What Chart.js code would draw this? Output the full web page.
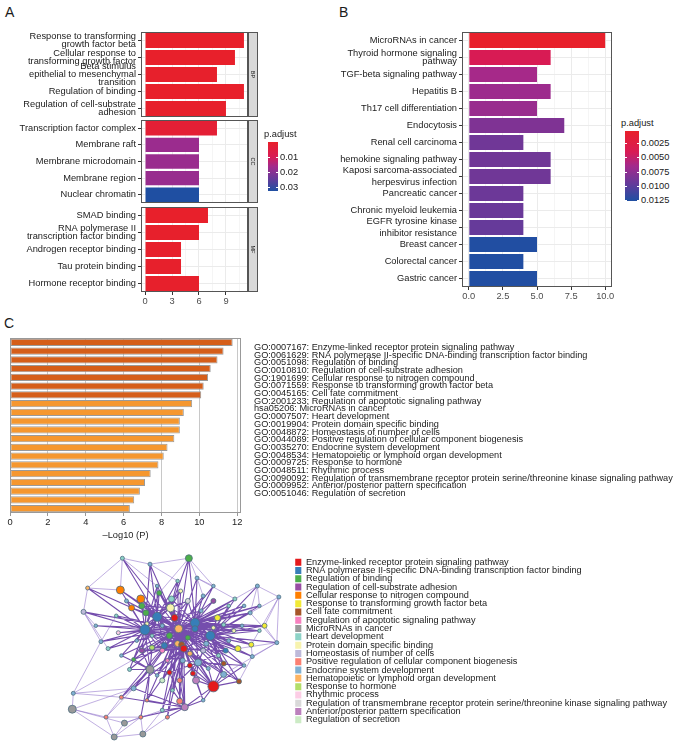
<!DOCTYPE html>
<html>
<head>
<meta charset="utf-8">
<script src="https://cdn.jsdelivr.net/npm/chart.js@4.4.1/dist/chart.umd.min.js"></script>
<style>
  body { margin: 0; background: #fff; width: 677px; height: 745px; position: relative; overflow: hidden;
         font-family: 'Liberation Sans', Arial, sans-serif; color: #1a1a1a; }
  canvas { position: absolute; }
  .tag { position: absolute; font-size: 14px; line-height: 14px; }
  .cb { position: absolute; font-size: 9.3px; line-height: 10px; white-space: nowrap; }
</style>
</head>
<body>
<div class="tag" style="left:5px;top:5px">A</div>
<div class="tag" style="left:339px;top:5px">B</div>
<div class="tag" style="left:4px;top:316px">C</div>

<canvas id="bp" width="262" height="93" style="left:0;top:28px"></canvas>
<canvas id="cc" width="262" height="91" style="left:0;top:116px"></canvas>
<canvas id="mf" width="262" height="105" style="left:0;top:203px"></canvas>
<canvas id="kegg" width="274" height="275" style="left:340px;top:28px"></canvas>
<canvas id="metascape" width="677" height="212" style="left:0;top:330px"></canvas>
<canvas id="net" width="677" height="205" style="left:0;top:540px"></canvas>

<script>
// ---- panel A: GO terms by ontology ----
const bpTerms = [['Response to transforming', 'growth factor beta'], ['Cellular response to', 'transforming growth factor'],
                 ['Beta stimulus', 'epithelial to mesenchymal', 'transition'], 'Regulation of binding',
                 ['Regulation of cell-substrate', 'adhesion']];
const bpCount = [11, 10, 8, 11, 9];
const bpPadj = [0.0003, 0.0004, 0.0006, 0.0003, 0.0005];

const ccTerms = ['Transcription factor complex', 'Membrane raft', 'Membrane microdomain', 'Membrane region', 'Nuclear chromatin'];
const ccCount = [8, 6, 6, 6, 6];
const ccPadj = [0.0025, 0.0175, 0.0176, 0.0178, 0.0327];

const mfTerms = ['SMAD binding', ['RNA polymerase II', 'transcription factor binding'], 'Androgen receptor binding',
                 'Tau protein binding', 'Hormone receptor binding'];
const mfCount = [7, 6, 4, 4, 6];
const mfPadj = [0.0004, 0.0005, 0.0006, 0.0006, 0.0005];

const aTicks = [0, 1.5, 3, 4.5, 6, 7.5, 9, 10.5];
const aPadjRange = [0.0001, 0.0327];
const aLegendTicks = [0.01, 0.02, 0.03];

// ---- panel B: KEGG ----
const keggTerms = ['MicroRNAs in cancer', ['Thyroid hormone signaling', 'pathway'], 'TGF-beta signaling pathway', 'Hepatitis B',
                   'Th17 cell differentiation', 'Endocytosis', 'Renal cell carcinoma', 'Chemokine signaling pathway',
                   ['Kaposi sarcoma-associated', 'herpesvirus infection'], 'Pancreatic cancer', 'Chronic myeloid leukemia',
                   ['EGFR tyrosine kinase', 'inhibitor resistance'], 'Breast cancer', 'Colorectal cancer', 'Gastric cancer'];
const keggCount = [10, 6, 5, 6, 5, 7, 4, 6, 6, 4, 4, 4, 5, 4, 5];
const keggPadj = [0.0005, 0.0040, 0.0064, 0.0068, 0.0070, 0.0083, 0.0090, 0.0090, 0.0090, 0.0092, 0.0093, 0.0095, 0.0125, 0.0125, 0.0125];
const bTicks = [0, 1.25, 2.5, 3.75, 5, 6.25, 7.5, 8.75, 10];
const bPadjRange = [0.00043, 0.0126];
const bLegendTicks = [0.0025, 0.005, 0.0075, 0.01, 0.0125];

// ---- panel C: metascape enrichment ----
const enrichTerms = [
  'GO:0007167: Enzyme-linked receptor protein signaling pathway',
  'GO:0061629: RNA polymerase II-specific DNA-binding transcription factor binding',
  'GO:0051098: Regulation of binding',
  'GO:0010810: Regulation of cell-substrate adhesion',
  'GO:1901699: Cellular response to nitrogen compound',
  'GO:0071559: Response to transforming growth factor beta',
  'GO:0045165: Cell fate commitment',
  'GO:2001233: Regulation of apoptotic signaling pathway',
  'hsa05206: MicroRNAs in cancer',
  'GO:0007507: Heart development',
  'GO:0019904: Protein domain specific binding',
  'GO:0048872: Homeostasis of number of cells',
  'GO:0044089: Positive regulation of cellular component biogenesis',
  'GO:0035270: Endocrine system development',
  'GO:0048534: Hematopoietic or lymphoid organ development',
  'GO:0009725: Response to hormone',
  'GO:0048511: Rhythmic process',
  'GO:0090092: Regulation of transmembrane receptor protein serine/threonine kinase signaling pathway',
  'GO:0009952: Anterior/posterior pattern specification',
  'GO:0051046: Regulation of secretion'
];
const enrichLogP = [11.76, 11.28, 10.96, 10.6, 10.46, 10.23, 10.1, 9.62, 9.18, 8.97, 8.97, 8.68, 8.32, 8.12, 7.84, 7.43, 7.13, 6.86, 6.56, 6.33];
const cTicks = [0, 2, 4, 6, 8, 10, 12];

// ---- network: clusters, nodes [x, y, cluster, radius], links ----
const clusterNames = enrichTerms.map(t => t.slice(t.indexOf(': ') + 2));
const clusterColors = ['#e41a1c', '#377eb8', '#4daf4a', '#984ea3', '#ff7f00', '#f2ea35', '#a65628', '#f781bf', '#999999', '#8dd3c7',
                       '#f7f3ae', '#bebada', '#fb8072', '#80b1d3', '#fdb462', '#b3de69', '#fccde5', '#d9d9d9', '#bc80bd', '#ccebc5'];
const nodes = [
  [61, 188, 9, 2], [126, 188, 2, 3.5], [88, 182, 13, 2], [134, 168, 13, 2], [27, 158, 14, 2],
  [59, 156, 4, 4], [79, 147, 4, 4], [193, 160, 13, 2], [214, 149, 13, 2], [171, 147, 9, 2],
  [23, 134, 11, 2.5], [109, 147, 9, 3], [97, 153, 2, 2.5], [108, 138, 10, 4], [84, 133, 2, 3],
  [95, 129, 1, 4.5], [112, 128, 0, 3.5], [132, 123, 1, 4.5], [154, 128, 5, 3], [160, 121, 9, 2],
  [186, 133, 13, 2], [83, 116, 1, 5], [116, 117, 14, 4], [132, 117, 1, 3], [147, 110, 1, 4.5],
  [107, 110, 2, 3], [40, 104, 13, 2], [212, 103, 13, 2], [187, 101, 5, 2.5], [174, 97, 5, 3],
  [115, 102, 14, 3], [119, 101, 6, 3], [121, 97, 0, 3.5], [143, 102, 13, 2.5], [47, 97, 9, 2],
  [188, 89, 13, 2], [72, 86, 2, 2], [135, 83, 13, 3.5], [160, 82, 6, 2.5], [88, 76, 8, 4],
  [68, 76, 9, 2], [127, 80, 0, 2.5], [130, 72, 0, 2.5], [160, 71, 13, 3], [175, 64, 6, 2.5],
  [133, 65, 18, 3.5], [150, 59, 0, 5.5], [107, 73, 0, 2.5], [117, 65, 12, 2.5], [72, 57, 13, 2.5],
  [13, 52, 13, 2], [60, 48, 12, 2], [117, 44, 12, 3], [122, 38, 18, 3.5], [12, 36, 8, 4],
  [45, 28, 12, 2], [105, 28, 12, 2], [79, 28, 12, 2], [63, 22, 8, 3], [53, 8, 8, 3],
  [81, 11, 8, 3], [100, 35, 9, 2], [90, 98, 15, 2.5], [57, 113, 16, 2], [70, 138, 4, 3],
  [80, 140, 2, 3], [100, 95, 7, 2.5], [140, 95, 11, 2.5], [125, 145, 17, 2.5], [100, 65, 19, 2.5],
  [150, 145, 3, 2.5], [80, 95, 3, 2.5], [140, 150, 13, 2], [65, 145, 13, 2], [165, 105, 13, 2],
  [155, 90, 9, 2], [120, 85, 13, 2.5], [105, 85, 7, 2], [145, 77, 13, 2], [95, 160, 13, 1.8],
  [115, 165, 9, 1.8], [150, 160, 13, 1.8], [165, 140, 9, 1.8], [178, 120, 13, 1.8], [195, 115, 9, 1.8],
  [180, 80, 13, 1.8], [170, 115, 10, 2], [100, 120, 13, 2], [90, 110, 9, 1.8], [75, 105, 13, 1.8],
  [60, 90, 13, 1.8], [55, 130, 9, 1.8], [35, 120, 13, 1.8], [95, 70, 13, 1.8], [110, 55, 9, 1.8],
  [140, 45, 13, 1.8], [85, 45, 12, 1.8], [125, 108, 2, 2.5], [138, 135, 13, 2], [118, 155, 10, 2],
  [102, 100, 1, 3], [127, 92, 14, 2.5], [150, 118, 10, 2], [162, 95, 1, 2.5], [85, 122, 10, 2],
  [195, 140, 13, 1.8], [200, 120, 5, 2.5], [180, 140, 13, 1.8]
];
const strongLinks = [
  [22, [0, 1, 2, 3, 4, 5, 6, 9, 10, 11, 12, 13, 14, 15, 16, 17, 18, 19, 20, 21, 23, 24, 25, 26, 28, 29, 30, 31, 32, 33, 34, 35,
        36, 37, 38, 39, 40, 41, 42, 43, 44, 45, 46, 47, 48, 49, 51, 52, 53, 56, 61, 62, 63, 64, 65, 66, 67, 68, 69, 70, 71, 72,
        73, 74, 75, 76, 77, 78, 79, 80, 81, 82, 83, 84, 85, 86, 87, 88, 89, 90, 91, 92, 93, 94, 95, 96, 97, 98, 99, 100, 101,
        102, 103, 104, 105, 106, 107]],
  [21, [2, 4, 5, 6, 10, 12, 13, 14, 15, 16, 25, 30, 31, 34, 36, 39, 40, 63, 64, 65, 71, 73, 79, 87, 88, 89, 90, 91, 92, 97, 99,
        100, 104, 62, 66, 26]],
  [17, [1, 3, 9, 11, 13, 16, 18, 19, 20, 23, 24, 28, 29, 30, 31, 32, 33, 37, 38, 43, 68, 70, 72, 74, 75, 81, 82, 83, 84, 86,
        98, 102, 103, 105, 106, 107]],
  [24, [7, 9, 18, 19, 20, 27, 28, 29, 33, 35, 37, 38, 43, 44, 67, 74, 75, 82, 83, 84, 85, 86, 102, 103, 105, 106, 107, 23, 32]],
  [15, [0, 2, 5, 6, 11, 12, 13, 14, 16, 25, 30, 31, 64, 65, 73, 79, 80, 87, 88, 97, 99, 100, 104, 36, 71]],
  [32, [37, 39, 41, 42, 43, 44, 45, 46, 47, 48, 49, 52, 53, 56, 61, 62, 66, 69, 76, 77, 78, 93, 94, 95, 96, 101, 103, 100, 67, 71]],
  [46, [38, 43, 44, 45, 53, 78, 85, 95, 42, 41, 37]],
  [53, [49, 52, 56, 57, 61, 51, 94, 95, 96, 47, 48]],
  [39, [36, 40, 49, 47, 51, 57, 71, 90, 93, 96, 62]],
  [13, [1, 11, 12, 14, 16, 99, 80, 65, 68, 30, 31, 97]],
  [37, [41, 42, 45, 47, 48, 67, 76, 101, 103, 85, 78]],
  [16, [23, 30, 31, 97, 101, 86, 98, 68, 11, 66]],
  [23, [18, 19, 29, 33, 67, 74, 86, 97, 98, 101, 102, 103, 106]],
  [30, [25, 36, 62, 66, 71, 76, 77, 87, 88, 100, 101, 93]]
];
const weakLinks = [[7, 8], [7, 9], [8, 27], [27, 35], [20, 7], [20, 27], [0, 2], [0, 4], [2, 1], [1, 3], [4, 10], [10, 26], [26, 50],
                   [50, 54], [54, 59], [54, 58], [58, 59], [59, 60], [60, 57], [55, 57], [55, 54], [51, 55], [51, 49], [35, 28],
                   [27, 29], [8, 20], [3, 9], [50, 49], [58, 57], [60, 56], [0, 5], [4, 5], [10, 34], [1, 12], [3, 72], [8, 28],
                   [50, 51], [59, 55], [60, 61], [7, 105], [8, 106], [27, 106], [10, 92], [26, 91], [50, 36], [54, 49], [0, 79],
                   [2, 80], [1, 81], [3, 81], [35, 44], [27, 43], [58, 61], [59, 57], [55, 49]];

Chart.defaults.font.family = "'Liberation Sans', Arial, sans-serif";
Chart.defaults.font.size = 9.3;
Chart.defaults.color = '#1a1a1a';

// red -> magenta -> blue fill used for p.adjust
const gradStops = [[0, '#e8202a'], [0.3, '#d81b55'], [0.5, '#a32a8c'], [0.75, '#653a9a'], [1, '#1f4fa2']];
function hexRgb(h) { return [1, 3, 5].map(i => parseInt(h.slice(i, i + 2), 16)); }
function padjColor(p, range) {
  let t = (p - range[0]) / (range[1] - range[0]);
  t = Math.max(0, Math.min(1, t));
  for (let i = 1; i < gradStops.length; i++) {
    if (t <= gradStops[i][0]) {
      const [t0, c0] = gradStops[i - 1], [t1, c1] = gradStops[i];
      const f = (t - t0) / (t1 - t0), a = hexRgb(c0), b = hexRgb(c1);
      return 'rgb(' + a.map((v, k) => Math.round(v + (b[k] - v) * f)).join(',') + ')';
    }
  }
  return gradStops[gradStops.length - 1][1];
}

function colorBar(left, top, width, height, range, ticks, digits) {
  const title = document.createElement('div');
  title.className = 'cb';
  title.style.left = (left - 4) + 'px';
  title.style.top = (top - 13) + 'px';
  title.textContent = 'p.adjust';
  document.body.appendChild(title);
  const bar = document.createElement('div');
  bar.style.cssText = `position:absolute;left:${left}px;top:${top}px;width:${width}px;height:${height}px;` +
    'background:linear-gradient(to bottom,' + gradStops.map(s => s[1] + ' ' + (s[0] * 100) + '%').join(',') + ')';
  document.body.appendChild(bar);
  ticks.forEach(p => {
    const y = top + (p - range[0]) / (range[1] - range[0]) * height;
    [left, left + width - 2].forEach(x => {
      const m = document.createElement('div');
      m.style.cssText = `position:absolute;left:${x}px;top:${Math.round(y)}px;width:2px;height:1px;background:#fff`;
      document.body.appendChild(m);
    });
    const lab = document.createElement('div');
    lab.className = 'cb';
    lab.style.left = (left + width + 2) + 'px';
    lab.style.top = (y - 5) + 'px';
    lab.textContent = p.toFixed(digits);
    document.body.appendChild(lab);
  });
}

// keep the plot area where ggplot puts it: no extra room for overhanging labels
function noOverhang(s) { s.paddingTop = 0; s.paddingBottom = 0; s.paddingLeft = 0; s.paddingRight = 0; }

// panel border + ggplot facet strip
const panelBox = {
  id: 'panelBox',
  afterDatasetsDraw(chart, args, opts) {
    const { ctx, chartArea: a } = chart;
    ctx.save();
    ctx.strokeStyle = opts.color || '#555';
    ctx.lineWidth = 1;
    ctx.strokeRect(Math.round(a.left) + 0.5, Math.round(a.top) + 0.5, Math.round(a.width) - 1, Math.round(a.height) - 1);
    if (opts.strip) {
      const x = Math.round(a.right) + 0.5;
      ctx.fillStyle = '#d9d9d9';
      ctx.fillRect(x, Math.round(a.top) + 0.5, 9, Math.round(a.height) - 1);
      ctx.strokeRect(x, Math.round(a.top) + 0.5, 9, Math.round(a.height) - 1);
      ctx.translate(x + 4.5, (a.top + a.bottom) / 2);
      ctx.rotate(Math.PI / 2);
      ctx.fillStyle = '#1a1a1a';
      ctx.font = "5.5px 'Liberation Sans', Arial, sans-serif";
      ctx.textAlign = 'center';
      ctx.textBaseline = 'middle';
      ctx.fillText(opts.strip, 0, 0);
    }
    ctx.restore();
  }
};

function facetChart(id, terms, counts, padj, strip, showX) {
  return new Chart(document.getElementById(id), {
    type: 'bar',
    data: {
      labels: terms,
      datasets: [{
        data: counts,
        backgroundColor: padj.map(p => padjColor(p, aPadjRange)),
        barPercentage: 0.87,
        categoryPercentage: 1
      }]
    },
    options: {
      indexAxis: 'y',
      responsive: false,
      animation: false,
      layout: { padding: { top: 4, bottom: showX ? 2 : 4, right: 14 } },
      plugins: { legend: { display: false }, tooltip: { enabled: false }, panelBox: { strip: strip } },
      scales: {
        x: {
          min: -0.45, max: 11.45,
          afterBuildTicks: s => { s.ticks = aTicks.map(v => ({ value: v })); },
          afterFit: s => { noOverhang(s); s.height = showX ? 14 : 0; },
          ticks: { display: showX, autoSkip: false, maxRotation: 0, padding: 1, color: '#4d4d4d',
                   callback: v => (v % 3 === 0 ? v : '') },
          grid: { color: '#ebebeb', lineWidth: c => (c.tick && c.tick.value % 3 === 0 ? 1 : 0.5),
                  drawTicks: showX, tickLength: 3,
                  tickColor: c => (c.tick && c.tick.value % 3 === 0 ? '#333' : 'rgba(0,0,0,0)') },
          border: { display: false }
        },
        y: {
          afterFit: s => { noOverhang(s); s.width = 141; },
          ticks: { autoSkip: false, padding: 2, color: '#1a1a1a', font: { size: 9.3, lineHeight: 0.83 } },
          grid: { color: '#ebebeb', offset: false, tickLength: 3, tickColor: '#333' },
          border: { display: false }
        }
      }
    },
    plugins: [panelBox]
  });
}

facetChart('bp', bpTerms, bpCount, bpPadj, 'BP', false);
facetChart('cc', ccTerms, ccCount, ccPadj, 'CC', false);
facetChart('mf', mfTerms, mfCount, mfPadj, 'MF', true);
colorBar(268, 142, 10, 49, aPadjRange, aLegendTicks, 2);

// panel B
new Chart(document.getElementById('kegg'), {
  type: 'bar',
  data: {
    labels: keggTerms,
    datasets: [{
      data: keggCount,
      backgroundColor: keggPadj.map(p => padjColor(p, bPadjRange)),
      barPercentage: 0.88,
      categoryPercentage: 1
    }]
  },
  options: {
    indexAxis: 'y',
    responsive: false,
    animation: false,
    layout: { padding: { top: 4, bottom: 2, right: 2 } },
    plugins: { legend: { display: false }, tooltip: { enabled: false }, panelBox: {} },
    scales: {
      x: {
        min: -0.5, max: 10.5,
        afterBuildTicks: s => { s.ticks = bTicks.map(v => ({ value: v })); },
        afterFit: s => { noOverhang(s); s.height = 14; },
        ticks: { autoSkip: false, maxRotation: 0, padding: 1, color: '#4d4d4d',
                 callback: v => (v % 2.5 === 0 ? v.toFixed(1) : '') },
        grid: { color: '#ebebeb', lineWidth: c => (c.tick && c.tick.value % 2.5 === 0 ? 1 : 0.5), tickLength: 3,
                tickColor: c => (c.tick && c.tick.value % 2.5 === 0 ? '#333' : 'rgba(0,0,0,0)') },
        border: { display: false }
      },
      y: {
        afterFit: s => { noOverhang(s); s.width = 122; },
        ticks: { autoSkip: false, padding: 2, color: '#1a1a1a',
                 font: c => ({ size: 9.3, lineHeight: (c.index === 8 || c.index === 11) ? 1.2 : 0.85 }) },
        grid: { color: '#ebebeb', offset: false, tickLength: 3, tickColor: '#333' },
        border: { display: false }
      }
    }
  },
  plugins: [panelBox]
});
colorBar(625, 131, 14, 70, bPadjRange, bLegendTicks, 4);

// panel C bar chart
new Chart(document.getElementById('metascape'), {
  type: 'bar',
  data: {
    labels: enrichTerms,
    datasets: [{
      data: enrichLogP,
      backgroundColor: enrichLogP.map(v => (v >= 10 ? '#d55e1a' : '#f5972f')),
      borderColor: '#9a9a9a',
      borderWidth: 1,
      borderSkipped: false,
      barPercentage: 0.82,
      categoryPercentage: 1
    }]
  },
  options: {
    indexAxis: 'y',
    responsive: false,
    animation: false,
    layout: { padding: { top: 8, left: 10, right: 0 } },
    plugins: { legend: { display: false }, tooltip: { enabled: false }, panelBox: { color: '#999' } },
    scales: {
      x: {
        min: 0, max: 12.2,
        afterBuildTicks: s => { s.ticks = cTicks.map(v => ({ value: v })); },
        afterFit: s => { noOverhang(s); s.height = 29; },
        ticks: { autoSkip: false, maxRotation: 0, padding: 1, color: '#222' },
        grid: { color: '#c8c8c8', tickLength: 3, tickColor: '#999' },
        border: { display: false },
        title: { display: true, text: '\u2013Log10 (P)', color: '#222', font: { size: 9.3 }, padding: { top: 0, bottom: 1 } }
      },
      y: { display: false },
      yl: {
        type: 'linear', position: 'right', reverse: true, min: -0.65, max: 20.95,
        afterBuildTicks: s => { s.ticks = enrichTerms.map((t, i) => ({ value: i })); },
        afterFit: s => { noOverhang(s); s.width = 436; },
        ticks: { autoSkip: false, crossAlign: 'near', padding: 5, color: '#222', font: { size: 9.2 },
                 callback: v => enrichTerms[v] },
        grid: { display: false },
        border: { display: false }
      }
    }
  },
  plugins: [panelBox]
});

// network of enriched terms
function edgePoints(pairs) {
  const pts = [];
  pairs.forEach(([a, b]) => {
    pts.push({ x: nodes[a][0], y: nodes[a][1] }, { x: nodes[b][0], y: nodes[b][1] }, { x: null, y: null });
  });
  return pts;
}
const strongPairs = [];
strongLinks.forEach(([hub, targets]) => targets.forEach(t => strongPairs.push([hub, t])));

const netDatasets = clusterNames.map((name, c) => ({
  type: 'bubble',
  label: name,
  order: 1,
  clip: false,
  data: nodes.filter(n => n[2] === c).map(n => ({ x: n[0], y: n[1], r: n[3] })),
  backgroundColor: clusterColors[c],
  borderColor: '#4f6f80',
  borderWidth: 0.8
}));
netDatasets.push({
  type: 'line', label: '', order: 2, clip: false, data: edgePoints(weakLinks),
  borderColor: 'rgba(140,110,200,0.55)', borderWidth: 1, pointRadius: 0, spanGaps: false, fill: false
});
netDatasets.push({
  type: 'line', label: '', order: 3, clip: false, data: edgePoints(strongPairs),
  borderColor: 'rgba(78,28,150,0.78)', borderWidth: 1.1, pointRadius: 0, spanGaps: false, fill: false
});

new Chart(document.getElementById('net'), {
  type: 'bubble',
  data: { datasets: netDatasets },
  options: {
    responsive: false,
    animation: false,
    layout: { padding: { left: 60, top: 5, right: 0, bottom: 8 } },
    scales: {
      x: { type: 'linear', min: 0, max: 230, display: false },
      y: { type: 'linear', min: 8, max: 200, display: false }
    },
    plugins: {
      tooltip: { enabled: false },
      legend: {
        position: 'right',
        align: 'center',
        maxWidth: 400,
        labels: {
          boxWidth: 7, boxHeight: 7, padding: -0.9, color: '#222', font: { size: 9.2 },
          filter: (item, data) => data.datasets[item.datasetIndex].type === 'bubble',
          generateLabels: chart => Chart.defaults.plugins.legend.labels.generateLabels(chart)
            .map(l => Object.assign(l, { lineWidth: 0, strokeStyle: 'rgba(0,0,0,0)' }))
        }
      }
    }
  }
});
</script>
</body>
</html>
